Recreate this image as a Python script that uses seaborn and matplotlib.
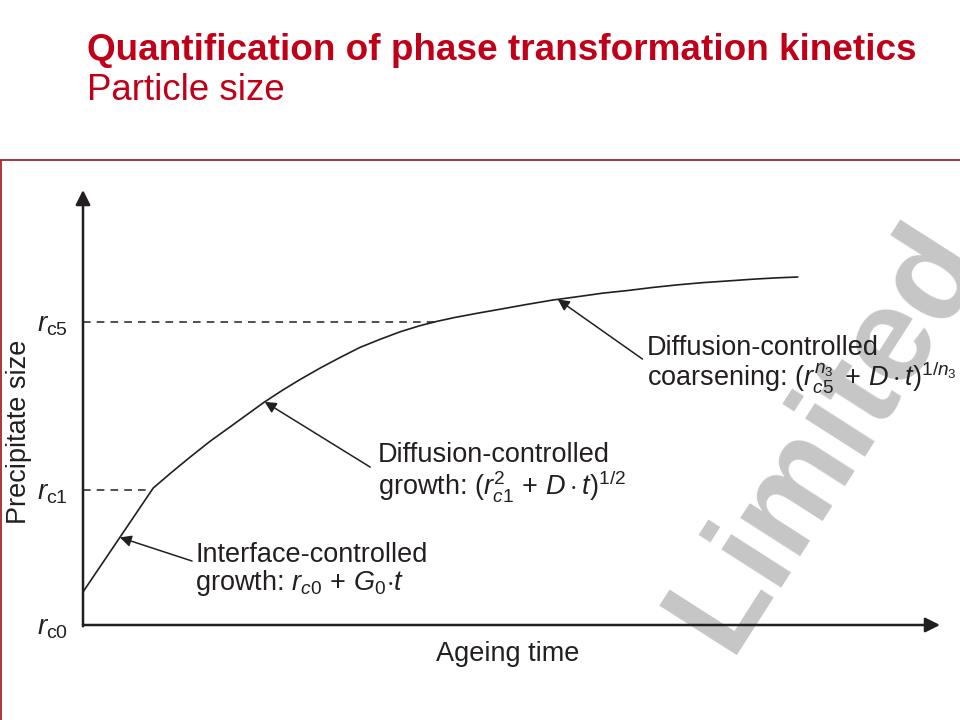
import numpy as np
import pandas as pd
import seaborn as sns
import matplotlib.pyplot as plt
from matplotlib.lines import Line2D

# curve (time, size in arbitrary units 0..100)
time = [0, 8.2, 10.4, 12.5, 14.8, 17.2, 19.3, 21.2, 23.3, 25.3, 27.7, 30.0,
        32.3, 34.7, 37.0, 39.3, 41.3, 43.4, 46.1, 48.7, 51.8, 54.8, 57.8,
        60.7, 63.6, 66.5, 69.4, 72.3, 75.3, 78.2, 80.9, 83.4]
size = [7.6, 31.5, 35.2, 38.6, 42.2, 45.6, 48.6, 51.3, 54.0, 56.4, 59.1, 61.5,
        63.8, 65.7, 67.4, 68.8, 69.8, 70.7, 71.7, 72.6, 73.7, 74.7, 75.5,
        76.3, 76.9, 77.6, 78.2, 78.7, 79.1, 79.5, 79.8, 80.0]

levels = [0, 31.0, 69.7]
level_labels = [r"$r_{\mathrm{c0}}$", r"$r_{\mathrm{c1}}$", r"$r_{\mathrm{c5}}$"]

# where the arrows point on the curve
tip_times = [4.3, 21.2, 55.4]

ink = "#231f20"
red = "#c00018"

sns.set_theme(style="white")
plt.rcParams["font.family"] = ["Liberation Sans", "DejaVu Sans"]
plt.rcParams["mathtext.fontset"] = "custom"
plt.rcParams["mathtext.rm"] = "Liberation Sans"
plt.rcParams["mathtext.it"] = "Liberation Sans:italic"
plt.rcParams["mathtext.bf"] = "Liberation Sans:bold"

df = pd.DataFrame({"time": time, "size": size})

fig = plt.figure(figsize=(9.6, 7.2), dpi=100, facecolor="white")
ax = fig.add_axes([83 / 960, 95 / 720, 857 / 960, 435 / 720])
ax.patch.set_alpha(0)

sns.lineplot(data=df, x="time", y="size", ax=ax, color=ink, lw=1.2)
ax.set_xlim(0, 100)
ax.set_ylim(0, 100)

# dashed guide lines to where the curve hits each level
ends = np.interp(levels[1:], size, time)
ax.hlines(levels[1:], 0, ends, colors=ink, lw=1.1, linestyles=(0, (5, 4)))

# axes as arrows
for s in ax.spines.values():
    s.set_visible(False)
ax.annotate("", xy=(1, 0), xytext=(0, 0), xycoords="axes fraction",
            arrowprops=dict(arrowstyle="-|>", color=ink, lw=1.8,
                            mutation_scale=22, shrinkA=0, shrinkB=0))
ax.annotate("", xy=(0, 1), xytext=(0, -0.003), xycoords="axes fraction",
            arrowprops=dict(arrowstyle="-|>", color=ink, lw=1.8,
                            mutation_scale=22, shrinkA=0, shrinkB=0))

ax.set_xticks([])
ax.set_yticks(levels)
ax.set_yticklabels(level_labels, fontsize=20, color=ink)
ax.tick_params(axis="y", length=0, pad=11)

ax.set_xlabel("Ageing time", fontsize=19.5, color=ink)
ax.xaxis.label.set_va("center")
ax.xaxis.set_label_coords(0.496, -0.067)
ax.set_ylabel("Precipitate size", fontsize=19.5, color=ink)
ax.yaxis.label.set_va("center")
ax.yaxis.set_label_coords(-0.075, 0.444)

# annotations
tip_sizes = np.interp(tip_times, time, size)
offsets = [(52, -17), (76, -47), (61, -43)]
for tx, ty, off in zip(tip_times, tip_sizes, offsets):
    ax.annotate("", xy=(tx, ty), xytext=off, textcoords="offset points",
                arrowprops=dict(arrowstyle="-|>", color=ink, lw=1.1,
                                mutation_scale=17, shrinkA=0, shrinkB=0))

fs = 19.5
ax.text(13.1, 14.5, "Interface-controlled", fontsize=fs, color=ink, va="baseline")
ax.text(13.1, 8.0, r"growth: $r_{c0}\,+\,G_0{\cdot}t$", fontsize=fs, color=ink, va="baseline")
ax.text(34.4, 37.5, "Diffusion-controlled", fontsize=fs, color=ink, va="baseline")
ax.text(34.4, 30.1, r"growth: $(r_{c1}^{2}\,+\,D\cdot t)^{1/2}$", fontsize=fs, color=ink, va="baseline")
ax.text(65.8, 62.1, "Diffusion-controlled", fontsize=fs, color=ink, va="baseline")
ax.text(65.8, 55.0, r"coarsening: $(r_{c5}^{n_3}\;+\,D\cdot t)^{1/n_3}$", fontsize=fs, color=ink, va="baseline")

# watermark behind the axes
fig.text(728 / 960, 1 - 655 / 720, "Limited", rotation=57.4, rotation_mode="anchor",
         ha="left", va="baseline", fontsize=96, fontweight="bold", color="#c6c6c6",
         zorder=-1)

# slide title
fig.text(87 / 960, 1 - 60 / 720, "Quantification of phase transformation kinetics",
         fontsize=26.6, fontweight="bold", color=red, va="baseline")
fig.text(87 / 960, 1 - 100 / 720, "Particle size", fontsize=26.4, color=red, va="baseline")

# slide frame
frame = "#a3262a"
fig.add_artist(Line2D([1 / 960, 1], [1 - 160 / 720] * 2, transform=fig.transFigure, color=frame, lw=1.3))
fig.add_artist(Line2D([1 / 960] * 2, [0, 1 - 160 / 720], transform=fig.transFigure, color=frame, lw=1.3))

fig.savefig("out.png", dpi=100, facecolor="white")
